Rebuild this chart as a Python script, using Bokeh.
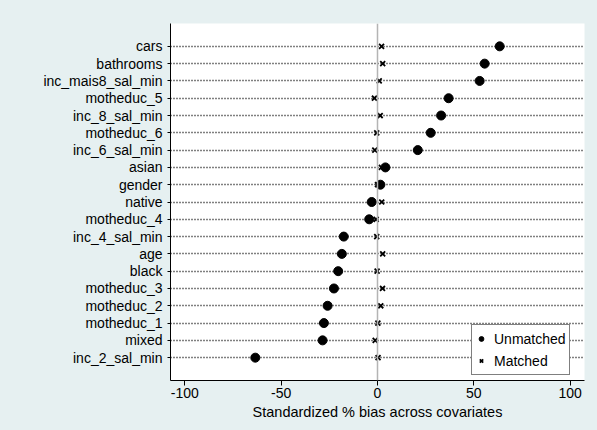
from bokeh.plotting import figure
from bokeh.models import ColumnDataSource, Range1d, FixedTicker, Span, Legend, LegendItem
from bokeh.embed import file_html
from bokeh.resources import INLINE

# Covariates listed top to bottom
covariates = ["cars", "bathrooms", "inc_mais8_sal_min", "motheduc_5", "inc_8_sal_min",
              "motheduc_6", "inc_6_sal_min", "asian", "gender", "native", "motheduc_4",
              "inc_4_sal_min", "age", "black", "motheduc_3", "motheduc_2", "motheduc_1",
              "mixed", "inc_2_sal_min"]
unmatched = [63.4, 55.6, 53.0, 36.9, 33.0, 27.6, 20.9, 4.1, 1.5, -3.0, -4.3,
             -17.5, -18.5, -20.4, -22.6, -25.9, -27.8, -28.5, -63.4]
matched = [2.1, 2.7, 0.9, -1.6, 1.4, -0.4, -1.4, 2.0, 0.0, 2.2, -0.7,
           -0.4, 2.7, -0.2, 2.6, 1.7, 0.2, -1.2, 0.3]
x_ticks = [-100, -50, 0, 50, 100]
x_tick_labels = ["-100", "-50", "0", "50", "100"]
x_title = "Standardized % bias across covariates"

n = len(covariates)
ypos = [n - 1 - i for i in range(n)]
src = ColumnDataSource(dict(y=ypos, u=unmatched, m=matched, name=covariates))

FONT = "Liberation Sans"
BG = "#E6F0F1"

p = figure(width=597, height=430, output_backend="svg", toolbar_location=None,
           x_range=Range1d(-107.4, 107.4), y_range=Range1d(-1.32, n - 1 + 1.32),
           min_border_left=170, min_border_right=13, min_border_top=23, min_border_bottom=50,
           background_fill_color="white", border_fill_color=BG)
p.border_fill_alpha = 1
p.styles = {"background-color": BG}
p.outline_line_color = None

# axes
p.yaxis.ticker = FixedTicker(ticks=ypos)
p.yaxis.major_label_overrides = {y: c for y, c in zip(ypos, covariates)}
p.yaxis.major_tick_out = 3
p.yaxis.major_tick_in = 0
p.yaxis.minor_tick_line_color = None
p.yaxis.major_label_standoff = 5
p.yaxis.axis_line_color = "black"
p.yaxis.major_tick_line_color = "black"
p.yaxis.major_label_text_font = FONT
p.yaxis.major_label_text_font_size = "14px"
p.yaxis.major_label_text_color = "black"

p.xaxis.ticker = FixedTicker(ticks=x_ticks)
p.xaxis.major_label_overrides = {t: l for t, l in zip(x_ticks, x_tick_labels)}
p.xaxis.major_tick_out = 5
p.xaxis.major_tick_in = 0
p.xaxis.minor_tick_line_color = None
p.xaxis.major_label_standoff = 2
p.xaxis.axis_line_color = "black"
p.xaxis.major_tick_line_color = "black"
p.xaxis.major_label_text_font = FONT
p.xaxis.major_label_text_font_size = "14px"
p.xaxis.major_label_text_color = "black"
p.xaxis.axis_label = x_title
p.xaxis.axis_label_text_font = FONT
p.xaxis.axis_label_text_font_size = "14.5px"
p.xaxis.axis_label_text_font_style = "normal"
p.xaxis.axis_label_text_color = "black"
p.xaxis.axis_label_standoff = 3

# grid
p.xgrid.grid_line_color = None
p.ygrid.grid_line_color = "black"
p.ygrid.grid_line_dash = "1 2"
p.ygrid.grid_line_width = 1.5

# zero line
p.add_layout(Span(location=0, dimension="height", line_color="#B4B4B4", line_width=1.5))

r_u = p.scatter("u", "y", source=src, marker="circle", size=9, color="black")
r_m = p.scatter("m", "y", source=src, marker="x", size=7, line_color="black", line_width=1.8)

legend = Legend(items=[LegendItem(label="Unmatched", renderers=[r_u]),
                       LegendItem(label="Matched", renderers=[r_m])],
                location=(301, 5))
legend.border_line_color = "black"
legend.border_line_width = 1
legend.background_fill_color = "white"
legend.background_fill_alpha = 1
legend.padding = 3
legend.spacing = 1
legend.margin = 0
legend.glyph_width = 12
legend.glyph_height = 21
legend.label_height = 21
legend.label_standoff = 7
legend.label_text_font = FONT
legend.label_text_font_size = "14px"
legend.label_text_color = "black"
p.add_layout(legend)

open("out.html", "w").write(file_html(p, INLINE))
